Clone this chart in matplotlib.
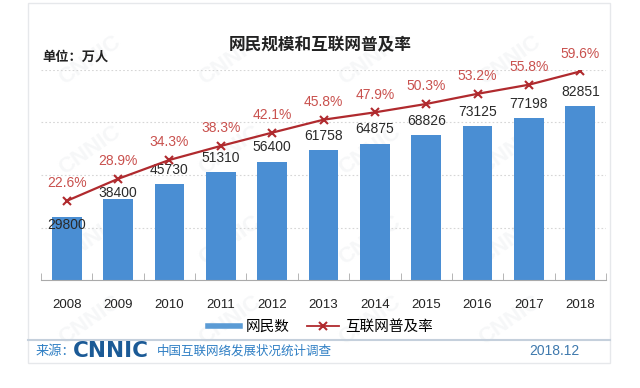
import matplotlib
matplotlib.use("Agg")
from matplotlib import pyplot as plt
from matplotlib.lines import Line2D
from matplotlib.patches import Rectangle

plt.rcParams['font.family'] = ['Liberation Sans', 'Noto Sans CJK SC', 'DejaVu Sans']

years = ["2008", "2009", "2010", "2011", "2012", "2013", "2014", "2015", "2016", "2017", "2018"]
users = [29800, 38400, 45730, 51310, 56400, 61758, 64875, 68826, 73125, 77198, 82851]
rate = [22.6, 28.9, 34.3, 38.3, 42.1, 45.8, 47.9, 50.3, 53.2, 55.8, 59.6]

bar_color = "#4a8ed3"
line_color = "#b02a2e"
label_red = "#c9514e"
blue = "#2f7fc4"

fig = plt.figure(figsize=(6.4, 3.88), dpi=100)

# outer frame and footer
fig.patches.append(Rectangle((28/640, 1-363/388), 582/640, 360/388, transform=fig.transFigure,
                             fill=False, edgecolor="#e6e8eb", lw=1))
fig.add_artist(Line2D([28/640, 610/640], [1-340/388, 1-340/388], color="#c5d0dc", lw=1.5))

# faint watermarks
for wx in [90, 230, 370, 510]:
    for wy in [60, 150, 240, 320]:
        fig.text(wx/640, 1-wy/388, "CNNIC", rotation=35, fontsize=16, fontweight="bold",
                 color="#f6f7f8", ha="center", va="center", zorder=-1)

ax = fig.add_axes([41/640, 1-280/388, 565/640, 210/388])
ax.patch.set_alpha(0)
x = list(range(len(years)))
ax.bar(x, users, width=0.58, color=bar_color, zorder=2)
ax.set_ylim(0, 100000)
ax.set_xlim(-0.5, len(years) - 0.5)
for yv in [25000, 50000, 75000, 100000]:
    ax.axhline(yv, color="#d6d6d6", lw=0.8, ls=(0, (1.5, 2)), zorder=1)
# first two value labels sit lower in the original to keep clear of the line
label_offsets = [-7000, -500] + [3500] * (len(users) - 2)
for i, v in enumerate(users):
    ax.text(i, v + label_offsets[i], str(v), ha="center", va="bottom", fontsize=10, color="#2a2a2a",
            zorder=4)
ax.set_yticks([])
ax.set_xticks(x)
ax.set_xticklabels(years, fontsize=9.5, color="#222222")
ax.set_xticks([i + 0.5 for i in x[:-1]] + [-0.5, len(x) - 0.5], minor=True)
ax.tick_params(axis="x", which="major", length=0, pad=14)
ax.tick_params(axis="x", which="minor", length=5, direction="in", color="#aaaaaa")
for s in ["top", "left", "right"]:
    ax.spines[s].set_visible(False)
ax.spines["bottom"].set_color("#aaaaaa")

ax2 = ax.twinx()
ax2.plot(x, rate, color=line_color, marker="x", markersize=6, mew=1.5, lw=1.6, zorder=3)
ax2.set_ylim(0, 60)
ax2.axis("off")
for i, v in enumerate(rate):
    ax2.text(i, v + 3.0, f"{v}%", ha="center", va="bottom", fontsize=10, color=label_red)

fig.text(0.5, 1-45/388, "网民规模和互联网普及率", ha="center", va="center", fontsize=12,
         fontweight="bold", family=["Noto Sans CJK SC"], color="#222222")
fig.text(42/640, 1-57/388, "单位：万人", ha="left", va="center", fontsize=9.5,
         fontweight="bold", family=["Noto Sans CJK SC"], color="#222222")

handles = [Line2D([], [], color="#5b9bd5", lw=4),
           Line2D([], [], color=line_color, marker="x", lw=1.3, markersize=6, mew=1.5)]
fig.legend(handles, ["网民数", "互联网普及率"], loc="center", bbox_to_anchor=(0.5, 1-327/388),
           ncol=2, frameon=False, handlelength=2.2, columnspacing=1.2, handletextpad=0.4,
           prop={"family": ["Noto Sans CJK SC"], "size": 10.5})

fig.text(36/640, 1-351/388, "来源：", ha="left", va="center", fontsize=9.5,
         family=["Noto Sans CJK SC"], color=blue)
fig.text(73/640, 1-351/388, "CNNIC", ha="left", va="center", fontsize=15.5,
         fontweight="bold", color="#1b5a96", family=["DejaVu Sans"])
fig.text(157/640, 1-351/388, "中国互联网络发展状况统计调查", ha="left", va="center", fontsize=9,
         family=["Noto Sans CJK SC"], color=blue)
fig.text(580/640, 1-351/388, "2018.12", ha="right", va="center", fontsize=10,
         color="#3f79ad")

fig.savefig("out.png", dpi=100)
